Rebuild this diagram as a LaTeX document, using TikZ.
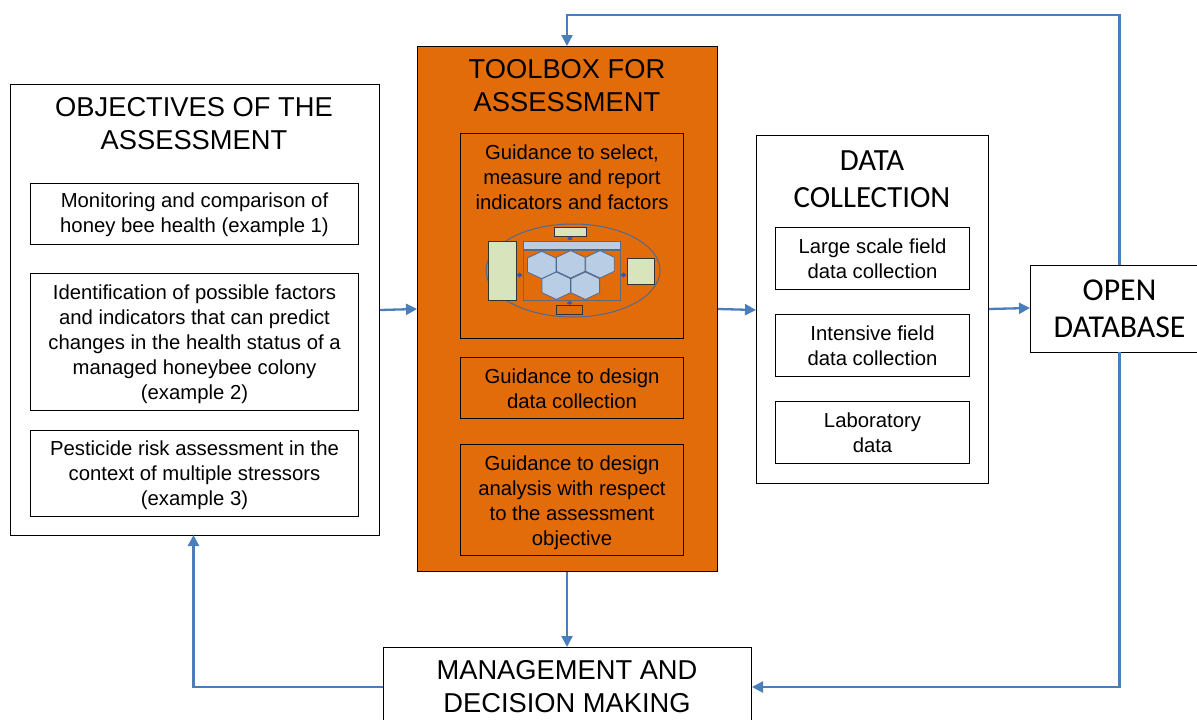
\documentclass[tikz,border=0pt]{standalone}
\usepackage{fontspec}
\setmainfont{Liberation Sans}
\newfontfamily\calibrifont{Carlito}
\usetikzlibrary{arrows.meta,shapes.geometric,positioning}
\definecolor{orangefill}{HTML}{E36C0A}
\definecolor{arrowblue}{HTML}{4A7EBB}
\definecolor{hexfill}{HTML}{B9CDE5}
\definecolor{iconline}{HTML}{4F6A92}
\definecolor{framegray}{HTML}{5F6B7A}
\definecolor{icongreen}{HTML}{D8E4BC}
\tikzset{
  x=1pt,y=-1pt,
  box/.style={draw=black,line width=1pt,fill=white,inner sep=0pt},
  obox/.style={box,fill=orangefill},
  txt/.style={inner sep=0pt,align=center,text=black,font=\fontsize{20.3}{25}\selectfont,yshift=-0.5pt},
  big/.style={inner sep=0pt,align=center,text=black,font=\fontsize{27.3}{33}\selectfont},
  bigcal/.style={inner sep=0pt,align=center,text=black,font=\calibrifont\fontsize{30.8}{37.5}\selectfont},
  bigcaldb/.style={bigcal,font=\calibrifont\fontsize{31.8}{37.5}\selectfont},
  link/.style={draw=arrowblue,line width=2.3pt,-{Triangle[length=11pt,width=11pt]}},
  iconbox/.style={draw=black!80,line width=1pt,fill=icongreen,inner sep=0pt},
  iconframe/.style={draw=framegray,line width=1pt,inner sep=0pt},
  hexa/.style={draw=iconline,line width=.8pt,fill=hexfill},
  mini/.style={draw=iconline!80!blue,line width=1pt,{Triangle[length=3pt,width=5pt]}-{Triangle[length=3pt,width=5pt]},shorten <=.1pt,shorten >=.1pt}
}
\begin{document}
\begin{tikzpicture}
\useasboundingbox (0,0) rectangle (1197,720);
\clip (0,0) rectangle (1197,720);
% Objectives
\node[box,minimum width=369pt,minimum height=451pt,anchor=north west] (obj) at (10,84) {};
\node[big] (objt) at (194,123.5) {OBJECTIVES OF THE\\ASSESSMENT};
\node[box,minimum width=328pt,minimum height=61pt] (o1) at (194.5,214) {};
\node[txt] (o1t) at (o1.center) {Monitoring and comparison of\\honey bee health (example 1)};
\node[box,minimum width=328pt,minimum height=137pt] (o2) at (194.5,342) {};
\node[txt,yshift=-2pt] (o2t) at (o2.center) {Identification of possible factors\\and indicators that can predict\\changes in the health status of a\\managed honeybee colony\\(example 2)};
\node[box,minimum width=328pt,minimum height=86pt] (o3) at (194.5,473.5) {};
\node[txt,yshift=-1pt] (o3t) at (o3.center) {Pesticide risk assessment in the\\context of multiple stressors\\(example 3)};
% Toolbox
\node[obox,minimum width=300pt,minimum height=525pt,anchor=north west] (tool) at (417,46) {};
\node[big] (toolt) at (567,86) {TOOLBOX FOR\\ASSESSMENT};
\node[obox,minimum width=223pt,minimum height=205pt,anchor=north west] (t1) at (460,133) {};
\node[txt] (t1t) at (572,177) {Guidance to select,\\measure and report\\indicators and factors};
\node[obox,minimum width=223pt,minimum height=61pt] (t2) at (572,388) {};
\node[txt] (t2t) at (t2.center) {Guidance to design\\data collection};
\node[obox,minimum width=223pt,minimum height=111pt] (t3) at (572,500) {};
\node[txt,yshift=-2pt] (t3t) at (t3.center) {Guidance to design\\analysis with respect\\to the assessment\\objective};
% Icon
\node[ellipse,draw=iconline,line width=1pt,minimum width=174pt,minimum height=93pt,inner sep=0pt] (ell) at (573,270.5) {};
\node[iconbox,minimum width=28pt,minimum height=59pt] (il) at (502,270.5) {};
\node[iconbox,minimum width=32pt,minimum height=9pt] (it) at (570,231.5) {};
\node[draw=iconline,line width=1pt,fill=hexfill,inner sep=0pt,minimum width=97pt,minimum height=8pt] (ib) at (571.5,245) {};
\node[iconframe,minimum width=97pt,minimum height=50pt] (ifr) at (571.5,275) {};
\node[iconbox,minimum width=27pt,minimum height=26pt] (ir) at (640.5,271) {};
\node[iconbox,fill=orangefill,minimum width=25.5pt,minimum height=8.5pt] (ibo) at (569.7,310) {};
\foreach \cx/\cy in {541.7/265,570.7/264.3,600/264.3,556.3/285.7,585.3/285.7}{
  \draw[hexa] (\cx,\cy-13.7) -- (\cx+14.3,\cy-7) -- (\cx+14.3,\cy+7) -- (\cx,\cy+13.7) -- (\cx-14.3,\cy+7) -- (\cx-14.3,\cy-7) -- cycle;
}
\draw[mini] (it.south) -- (it.south |- ib.north);
\draw[mini] (il.east |- ifr.center) -- (ifr.west);
\draw[mini] (ifr.east) -- (ir.west |- ifr.east);
\draw[mini] (ifr.south -| ibo.north) -- (ibo.north);
% Data
\node[box,minimum width=232pt,minimum height=348pt,anchor=north west] (data) at (756,135) {};
\node[bigcal] (datat) at (872,179) {DATA\\COLLECTION};
\node[box,minimum width=194pt,minimum height=62pt] (d1) at (872.5,258.5) {};
\node[txt] (d1t) at (d1.center) {Large scale field\\data collection};
\node[box,minimum width=194pt,minimum height=62pt] (d2) at (872.5,345.5) {};
\node[txt] (d2t) at (d2.center) {Intensive field\\data collection};
\node[box,minimum width=194pt,minimum height=62pt] (d3) at (872.5,432.5) {};
\node[txt] (d3t) at (d3.center) {Laboratory\\data};
% Open DB
\node[box,minimum width=175pt,minimum height=87pt,anchor=north west] (db) at (1030,265) {};
\node[bigcaldb] (dbt) at (1119.5,309) {OPEN\\DATABASE};
% Management
\node[box,minimum width=368pt,minimum height=100pt,anchor=north west] (mg) at (383,647) {};
\node[big] (mgt) at (567,687) {MANAGEMENT AND\\DECISION MAKING};
% Connectors
\draw[link] (obj.east |- 0,310) -- (tool.west |- 0,309);
\draw[link] (tool.east |- 0,309) -- (data.west |- 0,310);
\draw[link] (data.east |- 0,309) -- (db.west |- 0,308);
\draw[link] (tool.south -| 567,0) -- (mg.north -| 567,0);
\draw[link] (mg.west |- 0,687) -- (193.5,687) -- (193.5,535);
\draw[link] (1119.5,352) -- (1119.5,687) -- (mg.east |- 0,687);
\draw[link] (1119.5,265) -- (1119.5,15) -- (567,15) -- (567,46);
\end{tikzpicture}
\end{document}
